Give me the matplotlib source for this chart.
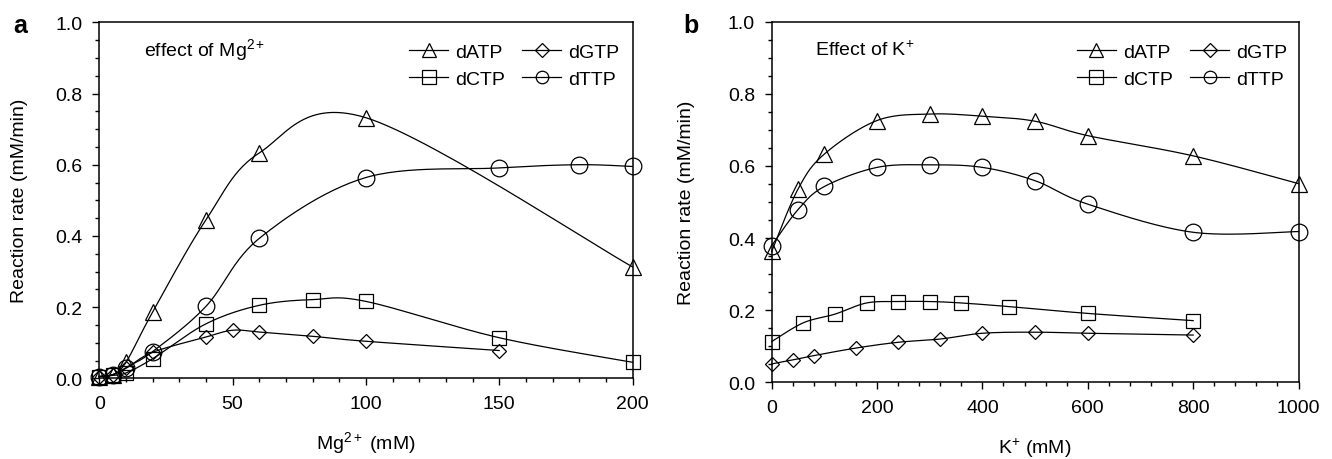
import numpy as np
import matplotlib
matplotlib.use("Agg")
import matplotlib.pyplot as plt
from matplotlib.lines import Line2D
from matplotlib.ticker import MultipleLocator, FormatStrFormatter

plt.rcParams['font.family'] = ['Liberation Sans', 'DejaVu Sans']
plt.rcParams['mathtext.fontset'] = 'custom'
plt.rcParams['mathtext.rm'] = 'Liberation Sans'
plt.rcParams['mathtext.it'] = 'Liberation Sans:italic'
plt.rcParams['mathtext.bf'] = 'Liberation Sans:bold'

# ---------------- data: panel a (Mg2+) ----------------
mg_datp_x = [0, 5, 10, 20, 40, 60, 100, 200]
mg_datp_y = [0.005, 0.01, 0.045, 0.186, 0.445, 0.633, 0.732, 0.313]
mg_dctp_x = [0, 5, 10, 20, 40, 60, 80, 100, 150, 200]
mg_dctp_y = [0.005, 0.008, 0.015, 0.055, 0.153, 0.205, 0.221, 0.216, 0.114, 0.045]
mg_dgtp_x = [0, 5, 10, 20, 40, 50, 60, 80, 100, 150]
mg_dgtp_y = [0.005, 0.01, 0.028, 0.073, 0.116, 0.135, 0.130, 0.118, 0.104, 0.078]
mg_dttp_x = [0, 5, 10, 20, 40, 60, 100, 150, 180, 200]
mg_dttp_y = [0.005, 0.01, 0.03, 0.075, 0.202, 0.393, 0.564, 0.591, 0.600, 0.595]

# ---------------- data: panel b (K+) ----------------
k_datp_x = [0, 50, 100, 200, 300, 400, 500, 600, 800, 1000]
k_datp_y = [0.363, 0.536, 0.633, 0.726, 0.744, 0.738, 0.724, 0.684, 0.628, 0.551]
k_dctp_x = [0, 60, 120, 180, 240, 300, 360, 450, 600, 800]
k_dctp_y = [0.113, 0.165, 0.189, 0.220, 0.224, 0.224, 0.220, 0.210, 0.191, 0.171]
k_dgtp_x = [0, 40, 80, 160, 240, 320, 400, 500, 600, 800]
k_dgtp_y = [0.051, 0.062, 0.074, 0.095, 0.111, 0.120, 0.136, 0.139, 0.136, 0.131]
k_dttp_x = [0, 50, 100, 200, 300, 400, 500, 600, 800, 1000]
k_dttp_y = [0.379, 0.479, 0.543, 0.596, 0.603, 0.596, 0.559, 0.494, 0.416, 0.418]

series_names = ['dATP', 'dCTP', 'dGTP', 'dTTP']
markers = {'dATP': '^', 'dCTP': 's', 'dGTP': 'D', 'dTTP': 'o'}
msizes = {'dATP': 11.5, 'dCTP': 10.5, 'dGTP': 7.2, 'dTTP': 12}
leg_msizes = {'dATP': 10.5, 'dCTP': 9.5, 'dGTP': 6.8, 'dTTP': 9}

panel_a = {'dATP': (mg_datp_x, mg_datp_y), 'dCTP': (mg_dctp_x, mg_dctp_y),
           'dGTP': (mg_dgtp_x, mg_dgtp_y), 'dTTP': (mg_dttp_x, mg_dttp_y)}
panel_b = {'dATP': (k_datp_x, k_datp_y), 'dCTP': (k_dctp_x, k_dctp_y),
           'dGTP': (k_dgtp_x, k_dgtp_y), 'dTTP': (k_dttp_x, k_dttp_y)}


def smooth_path(x, y, n=30):
    """Excel-like smoothed line (Bezier with Catmull-Rom control points)."""
    P = np.column_stack([np.asarray(x, float), np.asarray(y, float)])
    m = len(P)
    out = [P[0]]
    t = np.linspace(0, 1, n)[1:, None]
    for i in range(m - 1):
        p0 = P[i - 1] if i > 0 else P[i]
        p1 = P[i]
        p2 = P[i + 1]
        p3 = P[i + 2] if i + 2 < m else P[i + 1]
        c1 = p1 + (p2 - p0) / 6.0
        c2 = p2 - (p3 - p1) / 6.0
        seg = ((1 - t) ** 3) * p1 + 3 * ((1 - t) ** 2) * t * c1 + 3 * (1 - t) * t ** 2 * c2 + t ** 3 * p2
        out.extend(seg)
    out = np.array(out)
    return out[:, 0], out[:, 1]


W, H = 1332, 460
fig = plt.figure(figsize=(W / 100, H / 100), dpi=100)

def px_axes(l, t, r, b):
    return fig.add_axes([l / W, 1 - b / H, (r - l) / W, (b - t) / H])

ax_a = px_axes(99.3, 23.3, 632.5, 379.3)
ax_b = px_axes(771.7, 22.7, 1298.5, 383.3)

FS = 14

def setup(ax, data, xmax, xmajor, xminor, xlabel, note, legx, legy):
    for name in series_names:
        xs, ys = data[name]
        sx, sy = smooth_path(xs, ys)
        ax.plot(sx, sy, color='black', lw=0.9, clip_on=False, zorder=2)
        ax.plot(xs, ys, ls='none', marker=markers[name], ms=msizes[name],
                mfc='none', mec='black', mew=0.9, clip_on=False, zorder=3)
    ax.set_xlim(0, xmax)
    ax.set_ylim(0, 1.0)
    ax.xaxis.set_major_locator(MultipleLocator(xmajor))
    ax.xaxis.set_minor_locator(MultipleLocator(xminor))
    ax.yaxis.set_major_locator(MultipleLocator(0.2))
    ax.yaxis.set_minor_locator(MultipleLocator(0.05))
    ax.yaxis.set_major_formatter(FormatStrFormatter('%.1f'))
    ax.tick_params(which='both', direction='out', top=False, right=False,
                   labelsize=FS, width=1.0, color='black')
    ax.tick_params(which='major', length=5, pad=7)
    ax.tick_params(which='minor', length=3)
    for s in ax.spines.values():
        s.set_linewidth(1.1)
    ax.set_xlabel(xlabel, fontsize=FS, va='center')
    ax.xaxis.set_label_coords(0.5, -0.18)
    ax.text(0.083, 0.925, note, transform=ax.transAxes, fontsize=FS,
            ha='left', va='center')
    handles = [Line2D([], [], color='black', lw=0.9, marker=markers[n],
                      ms=leg_msizes[n], mfc='none', mec='black', mew=0.9)
               for n in series_names]
    ax.legend(handles, series_names, ncol=2, loc='upper right',
              bbox_to_anchor=(legx, legy), frameon=False, fontsize=FS,
              handlelength=2.0, handletextpad=0.35, columnspacing=0.9,
              labelspacing=0.5, borderpad=0, borderaxespad=0)

setup(ax_a, panel_a, 200, 50, 10, 'Mg$^{2+}$ (mM)', 'effect of Mg$^{2+}$', 0.975, 0.942)
setup(ax_b, panel_b, 1000, 200, 40, 'K$^{+}$ (mM)', 'Effect of K$^{+}$', 0.978, 0.941)

fig.text(19.5 / W, 1 - 201 / H, 'Reaction rate (mM/min)', rotation=90,
         fontsize=FS, ha='center', va='center')
fig.text(687 / W, 1 - 203 / H, 'Reaction rate (mM/min)', rotation=90,
         fontsize=FS, ha='center', va='center')
fig.text(13 / W, 1 - 33 / H, 'a', fontsize=18, fontweight='bold', ha='left', va='baseline')
fig.text(683 / W, 1 - 33 / H, 'b', fontsize=18, fontweight='bold', ha='left', va='baseline')

fig.savefig('out.png', dpi=100)
